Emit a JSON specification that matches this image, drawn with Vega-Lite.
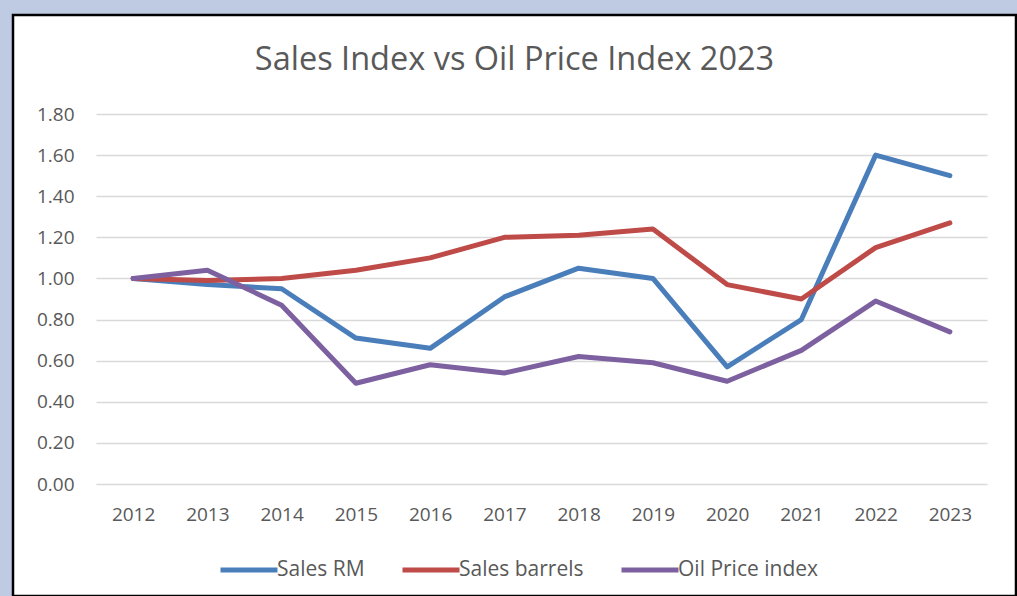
{
  "$schema": "https://vega.github.io/schema/vega-lite/v6.json",
  "width": 1003,
  "height": 581,
  "autosize": {"type": "none"},
  "padding": {"left": 13, "top": 15, "right": 1, "bottom": 0},
  "background": "#bfcbe3",
  "title": {
    "text": "Sales Index vs Oil Price Index 2023",
    "font": "Open Sans",
    "fontSize": 32.5,
    "fontWeight": "normal",
    "color": "#595959",
    "anchor": "middle",
    "baseline": "alphabetic",
    "offset": -87
  },
  "data": {
    "values": [
      {"year": "2012", "series": "Sales RM", "value": 1.00},
      {"year": "2013", "series": "Sales RM", "value": 0.97},
      {"year": "2014", "series": "Sales RM", "value": 0.95},
      {"year": "2015", "series": "Sales RM", "value": 0.71},
      {"year": "2016", "series": "Sales RM", "value": 0.66},
      {"year": "2017", "series": "Sales RM", "value": 0.91},
      {"year": "2018", "series": "Sales RM", "value": 1.05},
      {"year": "2019", "series": "Sales RM", "value": 1.00},
      {"year": "2020", "series": "Sales RM", "value": 0.57},
      {"year": "2021", "series": "Sales RM", "value": 0.80},
      {"year": "2022", "series": "Sales RM", "value": 1.60},
      {"year": "2023", "series": "Sales RM", "value": 1.50},
      {"year": "2012", "series": "Sales barrels", "value": 1.00},
      {"year": "2013", "series": "Sales barrels", "value": 0.99},
      {"year": "2014", "series": "Sales barrels", "value": 1.00},
      {"year": "2015", "series": "Sales barrels", "value": 1.04},
      {"year": "2016", "series": "Sales barrels", "value": 1.10},
      {"year": "2017", "series": "Sales barrels", "value": 1.20},
      {"year": "2018", "series": "Sales barrels", "value": 1.21},
      {"year": "2019", "series": "Sales barrels", "value": 1.24},
      {"year": "2020", "series": "Sales barrels", "value": 0.97},
      {"year": "2021", "series": "Sales barrels", "value": 0.90},
      {"year": "2022", "series": "Sales barrels", "value": 1.15},
      {"year": "2023", "series": "Sales barrels", "value": 1.27},
      {"year": "2012", "series": "Oil Price index", "value": 1.00},
      {"year": "2013", "series": "Oil Price index", "value": 1.04},
      {"year": "2014", "series": "Oil Price index", "value": 0.87},
      {"year": "2015", "series": "Oil Price index", "value": 0.49},
      {"year": "2016", "series": "Oil Price index", "value": 0.58},
      {"year": "2017", "series": "Oil Price index", "value": 0.54},
      {"year": "2018", "series": "Oil Price index", "value": 0.62},
      {"year": "2019", "series": "Oil Price index", "value": 0.59},
      {"year": "2020", "series": "Oil Price index", "value": 0.50},
      {"year": "2021", "series": "Oil Price index", "value": 0.65},
      {"year": "2022", "series": "Oil Price index", "value": 0.89},
      {"year": "2023", "series": "Oil Price index", "value": 0.74}
    ]
  },
  "mark": {"type": "line", "strokeWidth": 5, "strokeCap": "round", "strokeJoin": "round"},
  "encoding": {
    "x": {
      "field": "year",
      "type": "ordinal",
      "scale": {"type": "point", "range": [83, 974], "padding": 0.5},
      "axis": {
        "title": null,
        "labelAngle": 0,
        "domain": false,
        "ticks": false,
        "tickSize": 0,
        "grid": false,
        "labelPadding": 0,
        "offset": -91,
        "labelBaseline": "top",
        "labelFont": "Open Sans",
        "labelFontSize": 19,
        "labelColor": "#595959"
      }
    },
    "y": {
      "field": "value",
      "type": "quantitative",
      "scale": {"domain": [0, 1.8], "range": [469, 99], "nice": false, "zero": true},
      "axis": {
        "title": null,
        "values": [0, 0.2, 0.4, 0.6, 0.8, 1.0, 1.2, 1.4, 1.6, 1.8],
        "format": ".2f",
        "domain": false,
        "ticks": false,
        "tickSize": 0,
        "grid": true,
        "gridColor": "#d9d9d9",
        "gridWidth": 1.6,
        "labelPadding": 5,
        "offset": -66,
        "labelFont": "Open Sans",
        "labelFontSize": 19,
        "labelColor": "#595959"
      }
    },
    "color": {
      "field": "series",
      "type": "nominal",
      "scale": {
        "domain": ["Sales RM", "Sales barrels", "Oil Price index"],
        "range": ["#4a7ebb", "#be4b48", "#7d60a0"]
      },
      "legend": {
        "title": null,
        "orient": "none",
        "direction": "horizontal",
        "legendX": 205,
        "legendY": 524,
        "padding": 0,
        "symbolType": "stroke",
        "symbolSize": 3249,
        "symbolStrokeWidth": 5,
        "labelOffset": -3,
        "columnPadding": 27,
        "labelFont": "Open Sans",
        "labelFontSize": 21,
        "labelColor": "#595959"
      }
    }
  },
  "config": {
    "view": {"stroke": "#000000", "strokeWidth": 2.5, "fill": "#ffffff"}
  }
}
